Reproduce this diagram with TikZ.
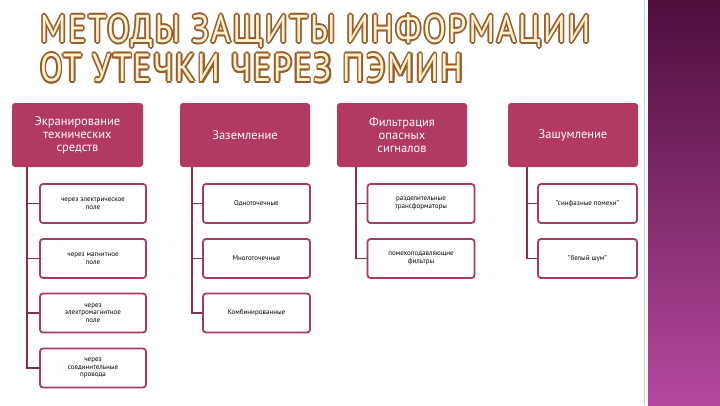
\documentclass[tikz,border=0pt]{standalone}
\usepackage{fontspec}
\setmainfont{PT Sans}
\usepackage[copies]{contour}
\contourlength{0.5pt}
\contournumber{8}
\definecolor{hd}{HTML}{B23A62}
\definecolor{bd}{HTML}{A83A64}
\definecolor{tfill}{HTML}{FFF3D0}
\definecolor{tline}{HTML}{9A5A2A}
\definecolor{pd}{HTML}{4E0E3C}
\definecolor{pl}{HTML}{B5489E}
\begin{document}
\begin{tikzpicture}[x=1pt,y=-1pt,
  head/.style={fill=hd,rounded corners=3pt,text=white,align=center,font=\fontsize{12.5}{13}\selectfont,inner sep=0pt},
  kid/.style={draw=bd,line width=1.8pt,fill=white,rounded corners=3pt,align=center,font=\fontsize{7}{7.5}\selectfont,inner sep=0pt},
  conn/.style={draw=bd!80!black,line width=1.6pt}]
\useasboundingbox (0,0) rectangle (720,405);
\fill[white] (0,0) rectangle (720,405);
\shade[top color=pd,bottom color=pl] (648,0) rectangle (720,405);
\draw[gray!40,line width=0.6pt] (644,0) -- (644,405);
\node[anchor=west,inner sep=0pt] (t1) at (40,32) {\resizebox{550pt}{28pt}{\addfontfeature{LetterSpace=6}\contour{tline}{\color{tfill}МЕТОДЫ ЗАЩИТЫ ИНФОРМАЦИИ}}};
\node[anchor=west,inner sep=0pt] (t2) at (40,69) {\resizebox{423pt}{28pt}{\addfontfeature{LetterSpace=6}\contour{tline}{\color{tfill}ОТ УТЕЧКИ ЧЕРЕЗ ПЭМИН}}};
% headers
\node[head,minimum width=131pt,minimum height=64pt] (h1) at (77.5,135) {Экранирование\\технических\\средств};
\node[head,minimum width=130pt,minimum height=64pt] (h2) at (245,135) {Заземление};
\node[head,minimum width=130pt,minimum height=64pt] (h3) at (402,135) {Фильтрация\\опасных\\сигналов};
\node[head,minimum width=130pt,minimum height=64pt] (h4) at (573,135) {Зашумление};
% kids
\foreach \n/\y/\t in {a1/203.5/{через электрическое\\поле},a2/258.5/{через магнитное\\поле},a3/313/{через\\электромагнитное\\поле},a4/368/{через\\соединительные\\провода}}
  \node[kid,minimum width=106pt,minimum height=39pt] (\n) at (93,\y) {\t};
\foreach \n/\y/\t in {b1/203.5/{Одноточечные},b2/258.5/{Многоточечные},b3/313/{Комбинированные}}
  \node[kid,minimum width=107pt,minimum height=39pt] (\n) at (256.5,\y) {\t};
\foreach \n/\y/\t in {c1/203.5/{разделительные\\трансформаторы},c2/258.5/{помехоподавляющие\\фильтры}}
  \node[kid,minimum width=107pt,minimum height=39pt] (\n) at (421,\y) {\t};
\foreach \n/\y/\t in {d1/203.5/{"синфазные помехи"},d2/258.5/{"белый шум"}}
  \node[kid,minimum width=99pt,minimum height=39pt] (\n) at (587.5,\y) {\t};
% connectors
\draw[conn] (h1.south -| 27,0) |- (a1.west);
\draw[conn] (h1.south -| 27,0) |- (a2.west);
\draw[conn] (h1.south -| 27,0) |- (a3.west);
\draw[conn] (h1.south -| 27,0) |- (a4.west);
\draw[conn] (h2.south -| 192,0) |- (b1.west);
\draw[conn] (h2.south -| 192,0) |- (b2.west);
\draw[conn] (h2.south -| 192,0) |- (b3.west);
\draw[conn] (h3.south -| 356,0) |- (c1.west);
\draw[conn] (h3.south -| 356,0) |- (c2.west);
\draw[conn] (h4.south -| 527,0) |- (d1.west);
\draw[conn] (h4.south -| 527,0) |- (d2.west);
\end{tikzpicture}
\end{document}
